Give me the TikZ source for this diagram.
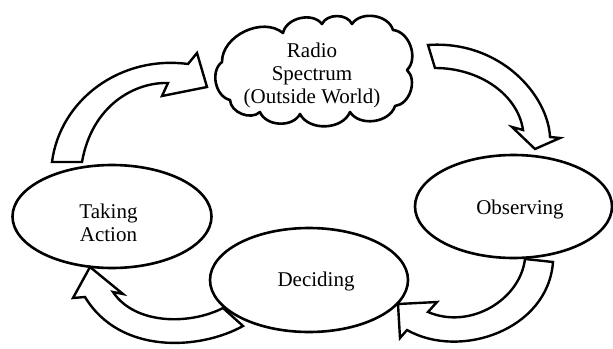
\documentclass[tikz,border=0pt]{standalone}
\usepackage{fontspec}
\setmainfont{Liberation Serif}
\usetikzlibrary{shapes.geometric}
\begin{document}
\begin{tikzpicture}[x=1pt,y=-1pt,
  oval/.style={draw,ellipse,line width=2.6pt,inner sep=0pt,fill=white},
  lbl/.style={font=\fontsize{21}{23}\selectfont,align=center,inner sep=0pt},
  cloudline/.style={draw,fill=white,line width=2.6pt,line join=round},
  blockarrow/.style={draw,fill=white,line width=2.4pt,line join=miter}]
\useasboundingbox (0,0) rectangle (613,348);

% cloud
\draw[cloudline] (230,100) to[bend left=65] (222,62) to[bend left=65] (283,33)
  to[bend left=65] (322,24) to[bend left=65] (352,24) to[bend left=65] (393,30)
  to[bend left=65] (407,70) to[bend left=65] (395,106) to[bend left=65] (350,112)
  to[bend left=65] (300,114) to[bend left=65] (260,112) to[bend left=65] (230,100) -- cycle;
\node[lbl] (cloudtext) at (312,75) {Radio\\Spectrum\\(Outside World)};

% ellipses
\node[oval,minimum width=199pt,minimum height=103pt] (ta) at (112,216.5) {};
\node[lbl] (tatext) at (108.5,223) {Taking\\Action};
\node[oval,minimum width=197pt,minimum height=103pt] (obs) at (513.5,206.5) {};
\node[lbl] (obstext) at (520,209) {Observing};
\node[oval,minimum width=198pt,minimum height=104pt] (dec) at (309,280) {};
\node[lbl] (dectext) at (316,281) {Deciding};

% arrow: Taking Action -> Radio Spectrum
\draw[blockarrow] (82,162) -- (52,162) .. controls (60,100) and (120,55) .. (188,64)
  -- (197,53) -- (207,87) -- (162,96) -- (168,83)
  .. controls (135,82) and (92,105) .. (82,162) -- cycle;

% arrow: Radio Spectrum -> Observing
\draw[blockarrow] (435,68) -- (428,45) .. controls (500,40) and (548,95) .. (550,137)
  -- (560,138) -- (535,149) -- (512,127) -- (523,130)
  .. controls (518,95) and (480,68) .. (435,68) -- cycle;

% arrow: Observing -> Deciding
\draw[blockarrow] (525,259) -- (553,262) .. controls (548,330) and (460,360) .. (407,330)
  -- (400,338) -- (398,304) -- (437,302) -- (428,312)
  .. controls (470,330) and (520,300) .. (525,259) -- cycle;

% arrow: Deciding -> Taking Action
\draw[blockarrow] (223,308) -- (243,326) .. controls (200,350) and (120,355) .. (85,297)
  -- (73,298) -- (90,267) -- (123,294) -- (113,292)
  .. controls (135,325) and (190,325) .. (223,308) -- cycle;
\end{tikzpicture}
\end{document}
